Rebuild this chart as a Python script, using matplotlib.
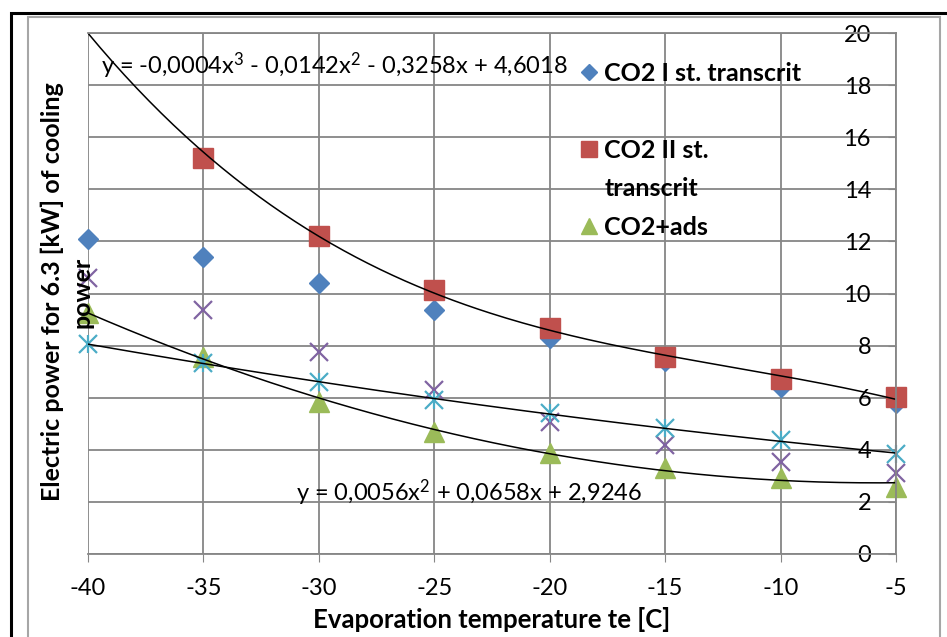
import numpy as np
import matplotlib.pyplot as plt
from matplotlib.patches import Rectangle
from matplotlib.lines import Line2D

plt.rcParams['font.family'] = ['Lato', 'DejaVu Sans']
plt.rcParams['axes.unicode_minus'] = False
plt.rcParams['mathtext.fontset'] = 'custom'
plt.rcParams['mathtext.rm'] = 'Lato'
plt.rcParams['mathtext.it'] = 'Lato'
plt.rcParams['mathtext.bf'] = 'Lato:bold'

# данные
te = [-40, -35, -30, -25, -20, -15, -10, -5]
co2_1 = [12.1, 11.4, 10.4, 9.35, 8.3, 7.4, 6.4, 5.8]
co2_2 = [20.1, 15.2, 12.2, 10.15, 8.68, 7.57, 6.7, 6.02]  # точка при -40 за пределами оси
co2_ads = [9.25, 7.57, 5.85, 4.68, 3.87, 3.3, 2.92, 2.58]
series_4 = [10.6, 9.37, 7.75, 6.3, 5.07, 4.18, 3.53, 3.1]
series_5 = [8.06, 7.33, 6.6, 5.91, 5.4, 4.83, 4.37, 3.84]

# коэффициенты тренда из подписи (зелёная серия)
trend_quad = [0.0056, 0.0658, 2.9246]
labels = ['CO2 I st. transcrit', 'CO2 II st.', 'transcrit', 'CO2+ads']

fig = plt.figure(figsize=(9.47, 6.37), dpi=100)
ax = fig.add_axes([88 / 947, 1 - 554 / 637, 808 / 947, 521 / 637])

grid_c = '#868686'
co2_2_vis = np.ma.masked_greater(co2_2, 20)
h1, = ax.plot(te, co2_1, 'D', color='#4F81BD', ms=9.7, ls='none', clip_on=False)
h2, = ax.plot(te, co2_2_vis, 's', color='#C0504D', ms=14, ls='none', clip_on=False)
h3, = ax.plot(te, co2_ads, '^', color='#9BBB59', ms=14, ls='none', clip_on=False)
ax.plot(te, series_4, 'x', color='#8064A2', ms=12.5, mew=1.6, ls='none', clip_on=False)
ax.plot(te, series_5, 'x', color='#4BACC6', ms=13.5, mew=1.6, ls='none', clip_on=False)
ax.plot(te, series_5, '|', color='#4BACC6', ms=13.5, mew=1.6, ls='none', clip_on=False)

# линии тренда
xx = np.linspace(-40, -5, 200)
fit2 = np.polyfit(te, co2_2, 3)
ax.plot(xx, np.polyval(fit2, xx), color='black', lw=1.1)
ax.plot(xx, np.polyval(trend_quad, xx), color='black', lw=1.1)
fit5 = np.polyfit(te, series_5, 2)
ax.plot(xx, np.polyval(fit5, xx), color='black', lw=1.1)

ax.text(-39.45, 18.75, 'y = -0,0004x$^3$ - 0,0142x$^2$ - 0,3258x + 4,6018', fontsize=17, va='center')
ax.text(-31.0, 2.35, 'y = 0,0056x$^2$ + 0,0658x + 2,9246', fontsize=17, va='center')

ax.set_xlim(-40, -5)
ax.set_ylim(0, 20)
ax.set_xticks(range(-40, 0, 5))
ax.set_yticks(range(0, 21, 2))
ax.grid(True, color=grid_c, lw=1.3)
ax.set_axisbelow(True)
for s in ax.spines.values():
    s.set_color(grid_c)
    s.set_linewidth(1.3)
ax.spines['left'].set_position(('data', -5))
ax.spines['right'].set_visible(False)
ax.tick_params(axis='x', length=6, color=grid_c, labelsize=17, pad=11)
ax.tick_params(axis='y', length=6, color=grid_c, labelsize=17, pad=12)
ax.set_xlabel('Evaporation temperature te [C]', fontsize=18.5, fontweight='bold', labelpad=6)
ax.patch.set_alpha(0)

fig.text(67 / 947, 1 - 292 / 637, 'Electric power for 6.3 [kW] of cooling\npower',
         rotation=90, ha='center', va='center', multialignment='center',
         fontsize=18, fontweight='bold', linespacing=1.38)

blank = Line2D([], [], ls='none')
leg = ax.legend(handles=[h1, blank, h2, blank, h3], labels=[labels[0], ' ', labels[1], labels[2], labels[3]],
                loc='upper left', bbox_to_anchor=(0.611, 0.945), borderpad=0, borderaxespad=0,
                frameon=False, prop={'weight': 'bold', 'size': 18}, handlelength=0.6,
                handletextpad=0.3, labelspacing=0.62, markerscale=0.8)

fig.patches.append(Rectangle((28 / 947, -0.1), 912 / 947, 1.1 - 17 / 637,
                             transform=fig.transFigure, fill=False, ec='#A6A6A6', lw=1.5))
fig.patches.append(Rectangle((11 / 947, -0.1), 1.0, 1.1 - 13 / 637,
                             transform=fig.transFigure, fill=False, ec='black', lw=2.2))

fig.savefig('out.png', dpi=100)
